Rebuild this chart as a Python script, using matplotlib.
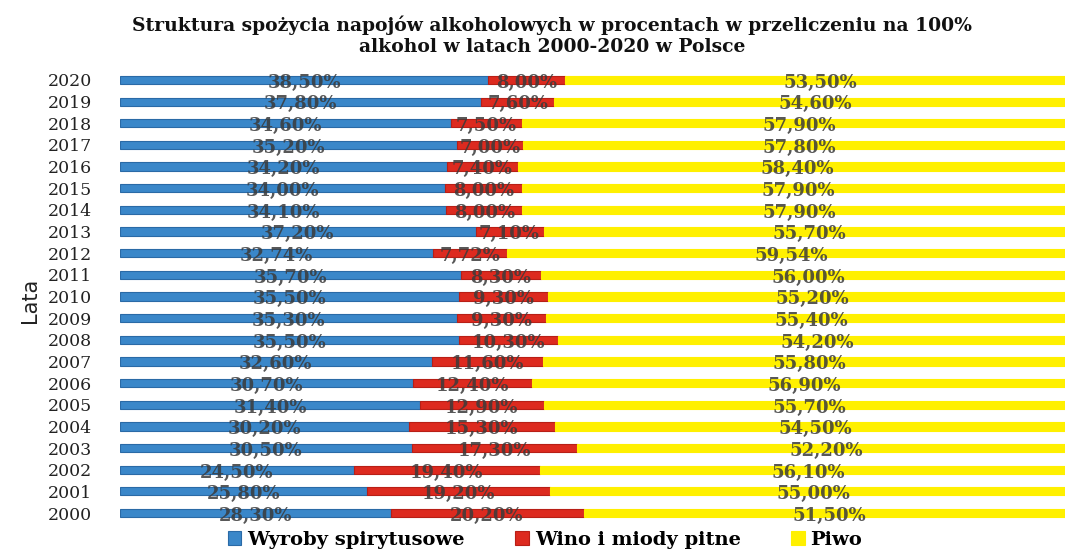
import matplotlib
matplotlib.use("Agg")
import matplotlib.pyplot as plt
import numpy as np

# struktura spozycia (% w przeliczeniu na 100% alkohol)
lata = [2000, 2001, 2002, 2003, 2004, 2005, 2006, 2007, 2008, 2009, 2010,
        2011, 2012, 2013, 2014, 2015, 2016, 2017, 2018, 2019, 2020]
wyroby_spirytusowe = [28.30, 25.80, 24.50, 30.50, 30.20, 31.40, 30.70, 32.60, 35.50, 35.30, 35.50,
                      35.70, 32.74, 37.20, 34.10, 34.00, 34.20, 35.20, 34.60, 37.80, 38.50]
wino_miody = [20.20, 19.20, 19.40, 17.30, 15.30, 12.90, 12.40, 11.60, 10.30, 9.30, 9.30,
              8.30, 7.72, 7.10, 8.00, 8.00, 7.40, 7.00, 7.50, 7.60, 8.00]
piwo = [51.50, 55.00, 56.10, 52.20, 54.50, 55.70, 56.90, 55.80, 54.20, 55.40, 55.20,
        56.00, 59.54, 55.70, 57.90, 57.90, 58.40, 57.80, 57.90, 54.60, 53.50]
serie = ["Wyroby spirytusowe", "Wino i miody pitne", "Piwo"]
kolory = ["#3a87c9", "#dd2a1f", "#fff000"]
krawedzie = ["#2a6aa6", "#b81f16", "#fff000"]

W, H = 1065, 549
fig = plt.figure(figsize=(W / 100, H / 100), dpi=100)
# os wychodzi poza prawa krawedz rysunku, tak jak na wykresie zrodlowym
ax = fig.add_axes([120 / W, 1 - 526 / H, 956 / W, (526 - 67) / H])

y = np.arange(len(lata))
lewo = np.zeros(len(lata))
for wartosci, nazwa, kol, kr in zip([wyroby_spirytusowe, wino_miody, piwo], serie, kolory, krawedzie):
    wartosci = np.array(wartosci)
    ax.barh(y, wartosci, left=lewo, height=0.38, color=kol, edgecolor=kr,
            linewidth=0.8, label=nazwa)
    for yi, l, v in zip(y, lewo, wartosci):
        ax.annotate(f"{v:.2f}%".replace(".", ","), (l + v / 2, yi),
                    xytext=(0, -2), textcoords="offset points",
                    ha="center", va="center", fontsize=13, fontweight="bold",
                    family="DejaVu Serif", color="#3b3b3b", alpha=0.85)
    lewo = lewo + wartosci

ax.set_xlim(0, 100)
ax.set_ylim(-0.6, len(lata) - 0.4)
ax.set_yticks(y)
ax.set_yticklabels([str(r) for r in lata], family="DejaVu Serif", fontsize=12.5, color="#222222")
ax.tick_params(axis="y", length=0, pad=20)
ax.set_xticks([])
for s in ax.spines.values():
    s.set_visible(False)

fig.text(30 / W, 1 - 300 / H, "Lata", rotation=90, ha="center", va="center",
         fontsize=15, family=["Liberation Sans Narrow", "DejaVu Sans"], color="#222222")

fig.text(552 / W, 1 - 36 / H,
         "Struktura spożycia napojów alkoholowych w procentach w przeliczeniu na 100%\n"
         "alkohol w latach 2000-2020 w Polsce",
         ha="center", va="center", fontsize=13.5, fontweight="bold",
         family="DejaVu Serif", linespacing=1.2, color="#111111")

uchwyty, etykiety = ax.get_legend_handles_labels()
fig.legend(uchwyty, etykiety, loc="center", bbox_to_anchor=(545 / W, 1 - 540 / H),
           ncol=3, frameon=False, handlelength=0.7, handleheight=0.7,
           handletextpad=0.3, columnspacing=2.6,
           prop={"family": "DejaVu Serif", "weight": "bold", "size": 14})

fig.savefig("out.png", dpi=100)
